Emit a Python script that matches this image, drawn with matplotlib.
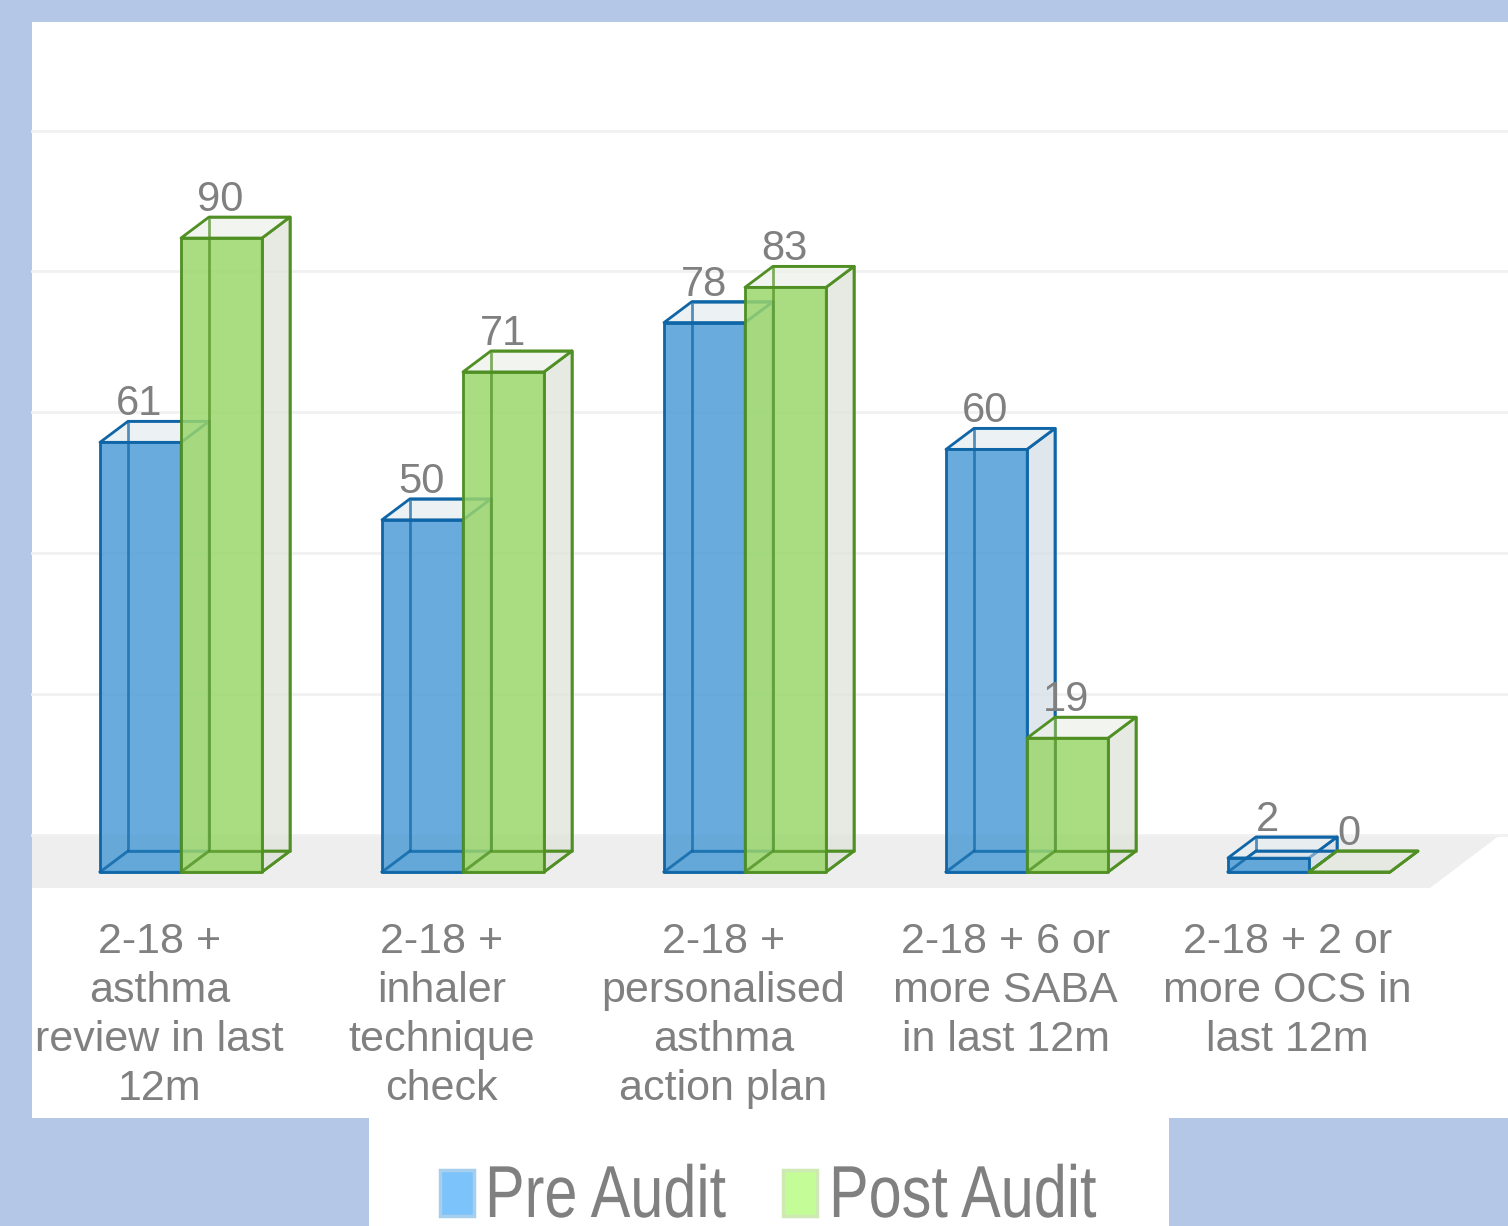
import matplotlib
matplotlib.use("Agg")
import matplotlib.pyplot as plt
from matplotlib.colors import to_rgba
from matplotlib.patches import Polygon, Rectangle
from matplotlib.patheffects import AbstractPathEffect
from matplotlib.transforms import Affine2D

categories = [
    "2-18 +\nasthma\nreview in last\n12m",
    "2-18 +\ninhaler\ntechnique\ncheck",
    "2-18 +\npersonalised\nasthma\naction plan",
    "2-18 + 6 or\nmore SABA\nin last 12m",
    "2-18 + 2 or\nmore OCS in\nlast 12m",
]
pre_audit = [61, 50, 78, 60, 2]
post_audit = [90, 71, 83, 19, 0]
grid_values = [0, 20, 40, 60, 80, 100]

# scale of the plot in pixels of the 1508x1226 picture
W, H = 1508, 1226
PX_PER_CAT = 282.0
PX_PER_VAL = 7.044
X0_PX = 181  # boundary of the two bars in the first group
Y0_PX = 872  # value 0 on the front of the bars


def dx(px):
    return px / PX_PER_CAT


def dy(px):
    return px / PX_PER_VAL


def x_of(px):
    return (px - X0_PX) / PX_PER_CAT


def y_of(px):
    return (Y0_PX - px) / PX_PER_VAL


BAR_W = dx(81)
DEPTH_X = dx(28)
DEPTH_Y = dy(21)

BG = "#b4c7e7"
GREY = "#808080"
BLUE = dict(front="#4e9dd6", edge="#0f65a6", side="#d5e0e8", top="#e6edf1", swatch="#7cc3fb", swatch_edge="#a6cfee")
GREEN = dict(front="#9bd66c", edge="#4f8f23", side="#dfe4da", top="#edf1ea", swatch="#c4fd97", swatch_edge="#cfe9b4")

plt.rcParams["font.family"] = ["Liberation Sans", "DejaVu Sans"]


# the legend text in the reference is stretched tall, no narrow font is installed
class SqueezeX(AbstractPathEffect):
    def __init__(self, sx):
        super().__init__()
        self.sx = sx

    def draw_path(self, renderer, gc, tpath, affine, rgbFace=None):
        renderer.draw_path(gc, tpath, Affine2D().scale(self.sx, 1) + affine, rgbFace)


fig = plt.figure(figsize=(W / 100, H / 100), dpi=100, facecolor=BG)
ax = fig.add_axes([0, 0, 1, 1])
ax.set_xlim(x_of(0), x_of(W))
ax.set_ylim(y_of(H), y_of(0))
ax.axis("off")

# white panels behind the chart and the legend
ax.add_patch(Rectangle((x_of(32), y_of(1118)), dx(W - 32), dy(1118 - 22), fc="white", ec="none", zorder=0))
ax.add_patch(Rectangle((x_of(369), y_of(H)), dx(800), dy(H - 1118), fc="white", ec="none", zorder=0))

# floor and wall grid
ax.add_patch(Polygon(
    [(x_of(32), y_of(835)), (x_of(1500), y_of(835)), (x_of(1430), y_of(888)), (x_of(32), y_of(888))],
    fc="#eeeeee", ec="none", zorder=1))
wall_offset = dy(37)
for g in grid_values:
    ax.plot([x_of(32), x_of(W)], [g + wall_offset, g + wall_offset], color="#f1f1f1", lw=2, zorder=1)


def draw_bar(x, v, c, z):
    x1 = x + BAR_W
    bx, bx1 = x + DEPTH_X, x1 + DEPTH_X
    b0, bv = DEPTH_Y, v + DEPTH_Y
    e = dict(ec=c["edge"], lw=2.0, joinstyle="round", zorder=z)
    ax.add_patch(Polygon([(x1, 0), (bx1, b0), (bx1, bv), (x1, v)], fc=to_rgba(c["side"], 0.75), **e))
    ax.add_patch(Polygon([(x, v), (x1, v), (bx1, bv), (bx, bv)], fc=to_rgba(c["top"], 0.75), **e))
    ax.add_patch(Polygon([(x, 0), (x1, 0), (bx1, b0), (bx, b0)], fc=to_rgba(c["side"], 0.5), **e))
    ax.add_patch(Rectangle((x, 0), BAR_W, v, fc=to_rgba(c["front"], 0.85), ec="none", zorder=z))
    # back edges show through the front face
    ax.add_patch(Polygon([(bx, b0), (bx1, b0), (bx1, bv), (bx, bv)], fc="none",
                         ec=to_rgba(c["edge"], 0.7), lw=2.0, joinstyle="round", zorder=z))
    ax.plot([x, bx], [0, b0], color=c["edge"], alpha=0.7, lw=2.0, zorder=z)
    ax.add_patch(Rectangle((x, 0), BAR_W, v, fc="none", **e))
    ax.text(x + BAR_W / 2 - dx(1), bv + dy(6), str(v), ha="center", va="baseline",
            fontsize=30, color=GREY, zorder=20)


for i, (pre, post) in enumerate(zip(pre_audit, post_audit)):
    draw_bar(i - BAR_W, pre, BLUE, 3 + i * 2)
    draw_bar(i, post, GREEN, 4 + i * 2)
    ax.text(i - dx(21.5), y_of(922), categories[i], ha="center", va="top", fontsize=31,
            color=GREY, linespacing=1.29, zorder=20)

# legend, placed by hand because the squeezed text would break ax.legend spacing
legend_items = [("Pre Audit", BLUE, 440, 485), ("Post Audit", GREEN, 783, 829)]
for label, c, swatch_px, text_px in legend_items:
    ax.add_patch(Rectangle((x_of(swatch_px), y_of(1216)), dx(34), dy(46), fc=c["swatch"],
                           ec=c["swatch_edge"], lw=2.5, zorder=20))
    t = ax.text(x_of(text_px), y_of(1217), label, ha="left", va="baseline", fontsize=53,
                color=GREY, zorder=20)
    t.set_path_effects([SqueezeX(0.807)])

fig.savefig("out.png", dpi=100, facecolor=BG)
